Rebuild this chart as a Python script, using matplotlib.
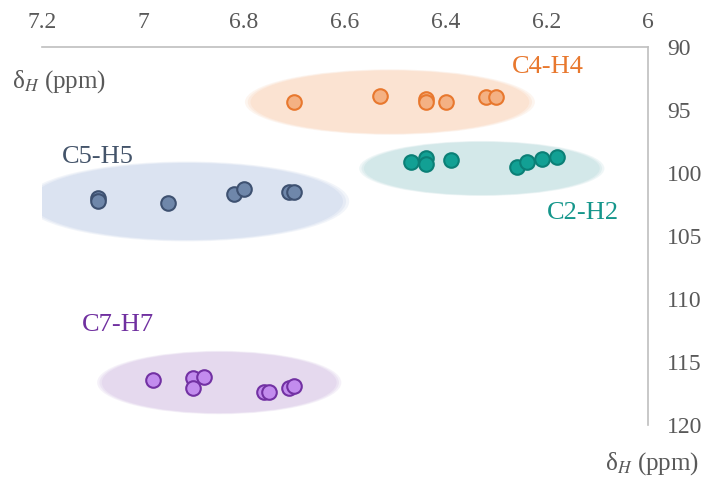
import matplotlib
matplotlib.use("Agg")
import matplotlib.pyplot as plt
from matplotlib.patches import Ellipse

plt.rcParams['font.family'] = ['Liberation Serif', 'DejaVu Serif']
plt.rcParams['mathtext.fontset'] = 'stix'

# ---- data (dH, dC in ppm) ----
c4_h = [6.70, 6.53, 6.44, 6.44, 6.40, 6.32, 6.30]
c4_c = [94.4, 93.9, 94.1, 94.4, 94.4, 94.0, 94.0]

c2_h = [6.47, 6.44, 6.44, 6.39, 6.26, 6.24, 6.21, 6.18]
c2_c = [99.1, 98.8, 99.3, 99.0, 99.5, 99.1, 98.9, 98.7]

c5_h = [7.09, 7.09, 6.95, 6.82, 6.80, 6.71, 6.70]
c5_c = [102.0, 102.2, 102.4, 101.7, 101.3, 101.5, 101.5]

c7_h = [6.98, 6.90, 6.88, 6.90, 6.76, 6.75, 6.71, 6.70]
c7_c = [116.4, 116.3, 116.2, 117.1, 117.4, 117.4, 117.1, 116.9]

groups = ["C4-H4", "C2-H2", "C5-H5", "C7-H7"]
xs = [c4_h, c2_h, c5_h, c7_h]
ys = [c4_c, c2_c, c5_c, c7_c]
# ellipse centre (x, y), width, height in data units
ell_center = [(6.511, 94.37), (6.329, 99.64), (6.913, 102.26), (6.849, 116.63)]
ell_size = [(0.552, 5.0), (0.467, 4.2), (0.618, 6.1), (0.465, 4.84)]
label_pos = [(6.198, 91.6), (6.129, 103.2), (7.09, 98.7), (7.05, 112.1)]

face = ["#F4B183", "#12A094", "#6F87AA", "#C28CEE"]
edge = ["#E8782E", "#0B7F76", "#3E5171", "#7231A3"]
shade = ["#FBE3D2", "#D3E8E9", "#DBE3F1", "#E5D9EE"]
txtc = ["#E8782E", "#15968B", "#44546A", "#7030A0"]

fig = plt.figure(figsize=(7.09, 4.88), dpi=100)
ax = fig.add_axes([0.0592, 0.1291, 0.8547, 0.7746])

for i, g in enumerate(groups):
    cx, cy = ell_center[i]
    w, h = ell_size[i]
    # soft edge: a few stacked ellipses
    for k, a in zip([1.04, 1.02, 1.0], [0.35, 0.5, 1.0]):
        ax.add_patch(Ellipse((cx, cy), w * k, h * k, facecolor=shade[i],
                             edgecolor='none', alpha=a, zorder=1))
    ax.scatter(xs[i], ys[i], s=110, facecolor=face[i], edgecolor=edge[i],
               linewidth=1.5, zorder=3)
    ax.text(label_pos[i][0], label_pos[i][1], g, color=txtc[i], fontsize=19,
            ha='center', va='center', zorder=4)

ax.set_xlim(7.2, 6.0)
ax.set_ylim(120, 90)
ax.set_xticks([7.2, 7.0, 6.8, 6.6, 6.4, 6.2, 6.0])
ax.set_xticklabels(["7.2", "7", "6.8", "6.6", "6.4", "6.2", "6"])
ax.set_yticks([90, 95, 100, 105, 110, 115, 120])

ax.xaxis.tick_top()
ax.yaxis.tick_right()
ax.tick_params(length=0, labelsize=17, labelcolor="#595959")
ax.tick_params(axis='x', pad=10)
ax.tick_params(axis='y', pad=14)
for s in ['left', 'bottom']:
    ax.spines[s].set_visible(False)
for s in ['top', 'right']:
    ax.spines[s].set_color("#BFBFBF")
    ax.spines[s].set_linewidth(1.2)

fig.text(0.017, 0.832, r"δ$_{\mathit{H}}$ (ppm)", fontsize=18, color="#595959",
         ha='left', va='center')
fig.text(0.853, 0.051, r"δ$_{\mathit{H}}$ (ppm)", fontsize=18, color="#595959",
         ha='left', va='center')

fig.savefig("out.png", dpi=100)
